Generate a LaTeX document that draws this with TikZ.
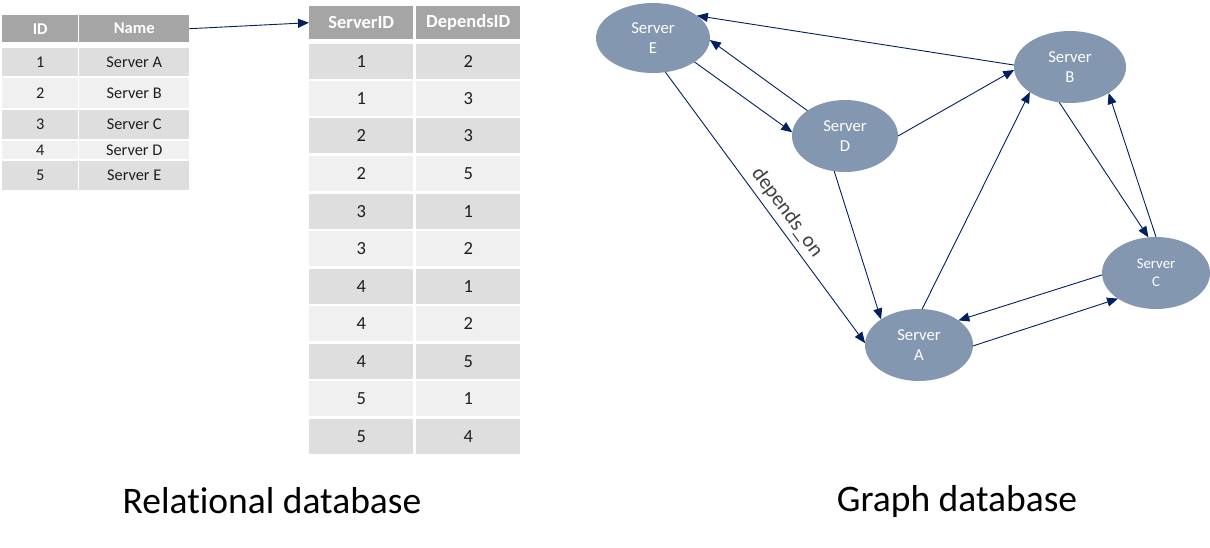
\documentclass[tikz,border=0pt]{standalone}
\usepackage{fontspec}
\setmainfont[Ligatures=NoCommon]{Carlito}
\usetikzlibrary{arrows.meta,shapes.geometric}
\definecolor{hdr}{RGB}{165,165,165}
\definecolor{rowa}{RGB}{222,222,222}
\definecolor{rowb}{RGB}{240,240,240}
\definecolor{nodefill}{RGB}{132,151,176}
\definecolor{edge}{RGB}{0,32,96}
\definecolor{txt}{RGB}{30,30,30}
\tikzset{
  hcell/.style={fill=hdr,draw=none,inner sep=0,text=white,font=\bfseries\fontsize{16.5}{18}\selectfont},
  cella/.style={fill=rowa,draw=none,inner sep=0,text=txt,font=\fontsize{16.3}{18}\selectfont},
  cellb/.style={fill=rowb,draw=none,inner sep=0,text=txt,font=\fontsize{16.3}{18}\selectfont},
  srv/.style={ellipse,fill=nodefill,draw=none,inner sep=0,outer sep=0,text=white,align=center,
    font=\fontsize{16.7}{20}\selectfont},
  dep/.style={draw=edge,line width=0.9pt,-{Triangle[length=11pt,width=9pt]}},
  caption/.style={font=\fontsize{37.5}{42}\selectfont,text=black}
}
\begin{document}
\begin{tikzpicture}[x=1pt,y=-1pt]
\useasboundingbox (0,0) rectangle (1210,547);
% ---- table 1
\node[hcell,minimum width=76pt,minimum height=27pt,anchor=north west] (t1h1) at (2,15) {ID};
\node[hcell,minimum width=110pt,minimum height=27pt,anchor=north west] (t1h2) at (79,15) {Name};
\foreach \i/\t/\b/\s/\n in {1/48/76/cella/Server A,2/78/108/cellb/Server B,3/110/139/cella/Server C,4/141/159/cellb/Server D,5/161/190/cella/Server E}{
  \pgfmathsetmacro{\hh}{\b-\t}
  \node[\s,minimum width=76pt,minimum height=\hh pt,anchor=north west] (t1r\i a) at (2,\t) {\i};
  \node[\s,minimum width=110pt,minimum height=\hh pt,anchor=north west] (t1r\i b) at (79,\t) {\n};
}
% ---- table 2
\node[hcell,minimum width=104pt,minimum height=33pt,anchor=north west,font=\bfseries\fontsize{18.5}{20}\selectfont] (t2h1) at (309,6) {ServerID};
\node[hcell,minimum width=104pt,minimum height=33pt,anchor=north west,font=\bfseries\fontsize{18.5}{20}\selectfont] (t2h2) at (416,6) {DependsID};
\foreach \i/\t/\s/\x/\y in {1/44/cella/1/2,2/81/cellb/1/3,3/118/cella/2/3,4/156/cellb/2/5,5/194/cella/3/1,6/231/cellb/3/2,7/269/cella/4/1,8/306/cellb/4/2,9/344/cella/4/5,10/381/cellb/5/1,11/419/cella/5/4}{
  \node[\s,minimum width=104pt,minimum height=35pt,anchor=north west,font=\fontsize{18.5}{20}\selectfont] (t2r\i a) at (309,\t) {\x};
  \node[\s,minimum width=104pt,minimum height=35pt,anchor=north west,font=\fontsize{18.5}{20}\selectfont] (t2r\i b) at (416,\t) {\y};
}
\draw[dep] (t1h2.east) -- (t2h1.west);
% ---- graph
\node[srv,minimum width=114pt,minimum height=70pt] (E) at (653,38) {Server\\E};
\node[srv,minimum width=106pt,minimum height=72pt] (D) at (845,136) {Server\\D};
\node[srv,minimum width=112pt,minimum height=72pt] (B) at (1070,67) {Server\\B};
\node[srv,minimum width=108pt,minimum height=72pt,font=\fontsize{14.8}{18}\selectfont] (C) at (1156,273) {Server\\C};
\node[srv,minimum width=108pt,minimum height=72pt] (A) at (919,345) {Server\\A};
\draw[dep] (B.178) -- (E.27);
\draw[dep] (D.146) -- (E.-2);
\draw[dep] (E.-30) -- (D.176);
\draw[dep] (D.0) -- (B.183);
\draw[dep] (E.-70) -- node[pos=0.55,above=2pt,sloped,font=\fontsize{21}{24}\selectfont,text=black!75] (lbl) {depends\_on} (A.178);
\draw[dep] (D.-107) -- (A.146);
\draw[dep] (A.85) -- (B.-148);
\draw[dep] (B.-107) -- (C.102);
\draw[dep] (C.90) -- (B.-34);
\draw[dep] (C.182) -- (A.32);
\draw[dep] (A.-1) -- (C.-146);
% ---- captions
\node[caption] (cap1) at (272,501) {Relational database};
\node[caption] (cap2) at (957,501) {Graph database};
\end{tikzpicture}
\end{document}
